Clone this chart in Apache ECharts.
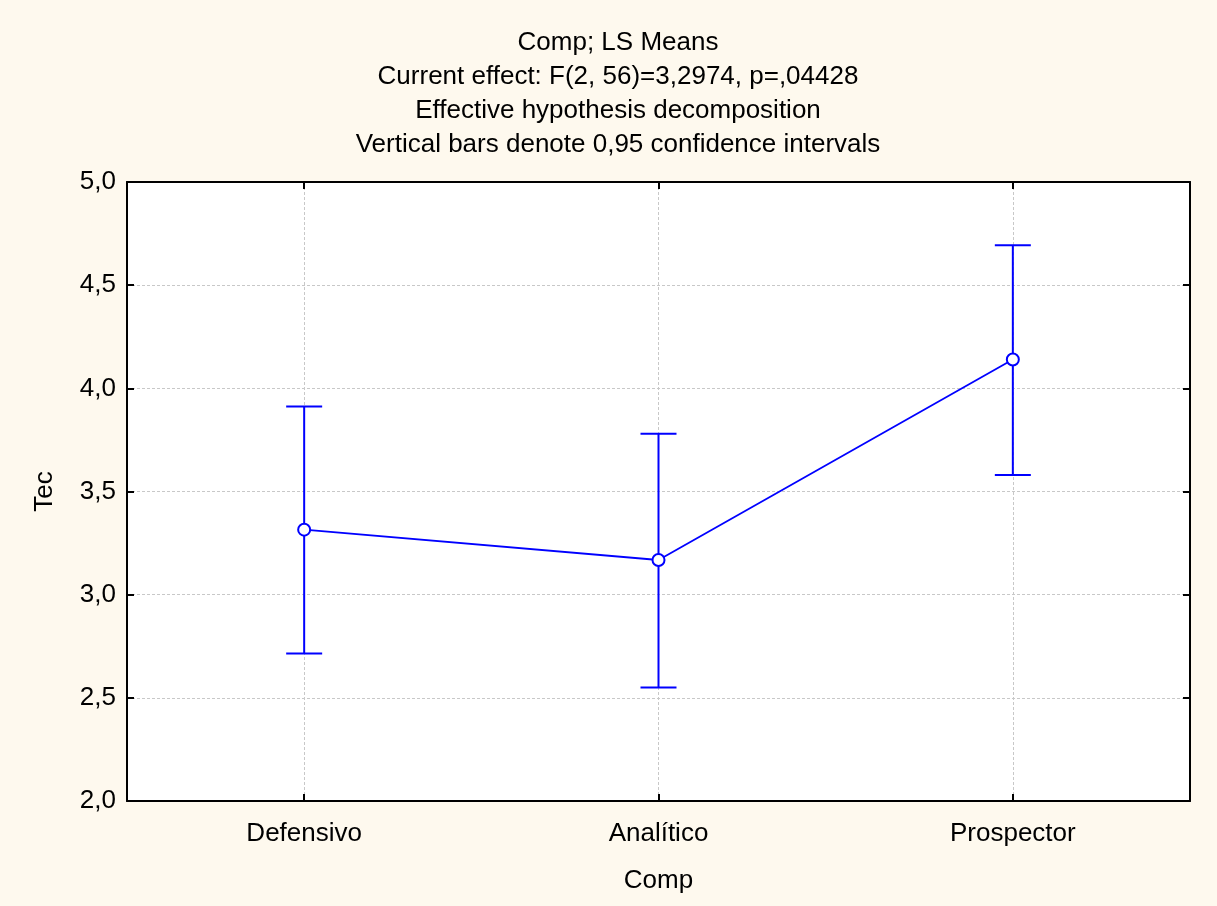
<!DOCTYPE html>
<html><head><meta charset="utf-8">
<script src="https://cdn.jsdelivr.net/npm/echarts@6/dist/echarts.min.js"></script>
<style>html,body{margin:0;padding:0;background:#FEF9EE}#c{width:1217px;height:906px}</style>
</head><body><div id="c"></div>
<script>
const categories = ['Defensivo', 'Analítico', 'Prospector'];
const means = [3.315, 3.168, 4.140];
const lower = [2.715, 2.550, 3.580];
const upper = [3.912, 3.780, 4.693];
const yTicks = {min: 2, max: 5, interval: 0.5};
const titleLines = ['Comp; LS Means', 'Current effect: F(2, 56)=3,2974, p=,04428', 'Effective hypothesis decomposition', 'Vertical bars denote 0,95 confidence intervals'];

const font = '"Liberation Sans", Arial, sans-serif';
const fs = 26;
const chart = echarts.init(document.getElementById('c'));
const fmt = v => v.toFixed(1).replace('.', ',');
const axisLine = {show: true, lineStyle: {color: '#000', width: 2}};
const tick = {show: true, inside: true, length: 7, lineStyle: {color: '#000', width: 2}};
const split = {show: true, lineStyle: {color: '#c8c8c8', type: [3, 2], width: 1}};

chart.setOption({
  backgroundColor: '#FEF9EE',
  animation: false,
  title: {
    text: titleLines.join('\n'), left: 613, top: 21, textAlign: 'center',
    textStyle: {fontFamily: font, fontSize: fs, fontWeight: 'normal', color: '#000', lineHeight: 34}
  },
  grid: {left: 127, right: 27, top: 182, bottom: 105, show: true, backgroundColor: '#fff', borderWidth: 0},
  xAxis: [
    {type: 'category', data: categories, position: 'bottom', boundaryGap: true,
     name: 'Comp', nameLocation: 'middle', nameGap: 67,
     nameTextStyle: {fontFamily: font, fontSize: fs, color: '#000'},
     axisLine: axisLine, axisTick: Object.assign({alignWithLabel: true}, tick),
     axisLabel: {fontFamily: font, fontSize: fs, color: '#000', margin: 20},
     splitLine: Object.assign({alignWithLabel: true}, split)},
    {type: 'category', data: categories, position: 'top', boundaryGap: true,
     axisLine: axisLine, axisTick: Object.assign({alignWithLabel: true}, tick),
     axisLabel: {show: false}, splitLine: {show: false}}
  ],
  yAxis: [
    {type: 'value', min: yTicks.min, max: yTicks.max, interval: yTicks.interval, position: 'left',
     name: 'Tec', nameLocation: 'middle', nameGap: 69, nameRotate: 90,
     nameTextStyle: {fontFamily: font, fontSize: fs, color: '#000'},
     axisLine: axisLine, axisTick: tick,
     axisLabel: {fontFamily: font, fontSize: fs, color: '#000', margin: 11, formatter: fmt},
     splitLine: split},
    {type: 'value', min: yTicks.min, max: yTicks.max, interval: yTicks.interval, position: 'right',
     axisLine: axisLine, axisTick: tick, axisLabel: {show: false}, splitLine: {show: false}}
  ],
  series: [
    {type: 'custom', xAxisIndex: 0, yAxisIndex: 0, z: 3,
     data: categories.map((c, i) => [i, lower[i], upper[i]]),
     renderItem: function (params, api) {
       const lo = api.coord([api.value(0), api.value(1)]);
       const hi = api.coord([api.value(0), api.value(2)]);
       const w = 18;
       const st = {stroke: '#0000FF', lineWidth: 2};
       return {type: 'group', children: [
         {type: 'line', shape: {x1: lo[0], y1: lo[1], x2: hi[0], y2: hi[1]}, style: st},
         {type: 'line', shape: {x1: lo[0] - w, y1: lo[1], x2: lo[0] + w, y2: lo[1]}, style: st},
         {type: 'line', shape: {x1: hi[0] - w, y1: hi[1], x2: hi[0] + w, y2: hi[1]}, style: st}
       ]};
     }},
    {type: 'line', xAxisIndex: 0, yAxisIndex: 0, z: 4, data: means,
     symbol: 'circle', symbolSize: 12, showAllSymbol: true,
     lineStyle: {color: '#0000FF', width: 1.8},
     itemStyle: {color: '#fff', borderColor: '#0000FF', borderWidth: 2}}
  ]
});
</script></body></html>
